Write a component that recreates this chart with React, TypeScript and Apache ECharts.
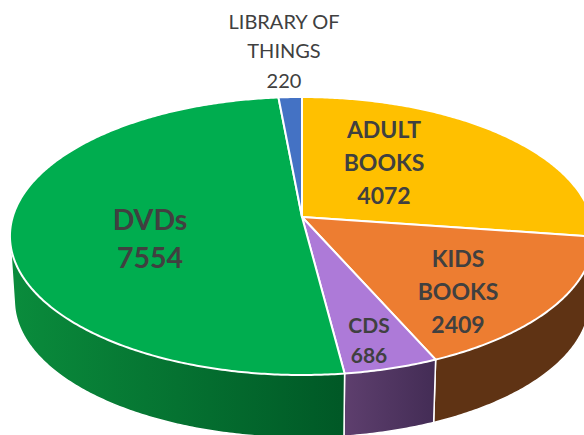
import React, { useEffect, useRef } from "react";
import * as echarts from "echarts";

const categories = ["ADULT\nBOOKS", "KIDS\nBOOKS", "CDS", "DVDs", "LIBRARY OF\nTHINGS"];
const values = [4072, 2409, 686, 7554, 220];
const topColors = ["#FFC000", "#ED7D31", "#AD7AD8", "#00AD4F", "#4472C4"];
const wallFrom = ["#7F6000", "#5F3314", "#5E3F6E", "#0A8C3C", "#223962"];
const wallTo = ["#7F6000", "#5F3314", "#432C55", "#005826", "#223962"];
const labelCentres = [[384, 162], [458, 291], [369, 339], [150, 238], [284, 50]];
const labelSizes = [23, 23, 21, 28.5, 20];
const labelLines = [33, 33, 30, 38, 29.5];
const labelWeights = ["bold", "bold", "bold", "bold", "normal"];

const total = values.reduce((a, b) => a + b, 0);
const sweep = (i: number) => {
  const before = values.slice(0, i).reduce((a, b) => a + b, 0);
  return [(before / total) * Math.PI * 2, ((before + values[i]) / total) * Math.PI * 2];
};

// Tilted disc: perspective projection of a unit circle
const K = 0.1367;
const project = (t: number, x0: number, y0: number, scale: number) => {
  const u = Math.sin(t);
  const v = -Math.cos(t);
  const w = 1 - K * v;
  return [x0 + (scale * 289.3 * u) / w, y0 + (scale * 136.4 * v) / w];
};
const arc = (a: number, b: number, x0: number, y0: number, scale: number) => {
  const n = Math.max(2, Math.ceil((b - a) / 0.01));
  const pts: number[][] = [];
  for (let i = 0; i <= n; i++) pts.push(project(a + ((b - a) * i) / n, x0, y0, scale));
  return pts;
};
// The side wall of a slice is the hull of its upper and lower rims; the part
// that falls inside the disc is covered by the top faces.
const hull = (input: number[][]) => {
  const pts = [...input].sort((p, q) => p[0] - q[0] || p[1] - q[1]);
  const cross = (o: number[], p: number[], q: number[]) =>
    (p[0] - o[0]) * (q[1] - o[1]) - (p[1] - o[1]) * (q[0] - o[0]);
  const build = (list: number[][]) => {
    const out: number[][] = [];
    for (const p of list) {
      while (out.length >= 2 && cross(out[out.length - 2], out[out.length - 1], p) <= 0) out.pop();
      out.push(p);
    }
    out.pop();
    return out;
  };
  return [...build(pts), ...build([...pts].reverse())];
};

const TOP = [302, 217, 1] as const;
const BASE = [302, 282, 0.985] as const;

export default function App() {
  const ref = useRef<HTMLDivElement>(null);
  useEffect(() => {
    document.body.style.margin = "0";
    const chart = echarts.init(ref.current!, undefined, { renderer: "svg" });
    chart.setOption({
      animation: false,
      backgroundColor: "#ffffff",
      series: [
        {
          type: "custom",
          coordinateSystem: "none",
          silent: true,
          z: 1,
          data: values,
          renderItem: (params: any) => {
            const i = params.dataIndex;
            const [a, b] = sweep(i);
            const upper = arc(a, b, TOP[0], TOP[1], TOP[2]);
            const lower = arc(a, b, BASE[0], BASE[1], BASE[2]);
            return {
              type: "polygon",
              shape: { points: hull([...upper, ...lower]) },
              style: {
                fill: new echarts.graphic.LinearGradient(0, 0, 1, 0, [
                  { offset: 0, color: wallFrom[i] },
                  { offset: 1, color: wallTo[i] },
                ]),
                stroke: "#ffffff",
                lineWidth: 1.5,
              },
            };
          },
        },
        {
          type: "custom",
          coordinateSystem: "none",
          silent: true,
          z: 2,
          data: values,
          renderItem: (params: any) => {
            const i = params.dataIndex;
            const [a, b] = sweep(i);
            const rim = arc(a, b, TOP[0], TOP[1], TOP[2]);
            return {
              type: "polygon",
              shape: { points: [[TOP[0], TOP[1]], ...rim] },
              style: { fill: topColors[i], stroke: "#ffffff", lineWidth: 2, lineJoin: "round" },
            };
          },
        },
        {
          type: "custom",
          coordinateSystem: "none",
          silent: true,
          z: 3,
          data: values,
          renderItem: (params: any) => {
            const i = params.dataIndex;
            return {
              type: "text",
              x: labelCentres[i][0],
              y: labelCentres[i][1],
              style: {
                text: `${categories[i]}\n${values[i]}`,
                fill: "#404040",
                font: `${labelWeights[i]} ${labelSizes[i]}px Lato`,
                lineHeight: labelLines[i],
                align: "center",
                verticalAlign: "middle",
              },
            };
          },
        },
      ],
    });
    return () => chart.dispose();
  }, []);
  return <div ref={ref} style={{ width: 584, height: 435 }} />;
}
